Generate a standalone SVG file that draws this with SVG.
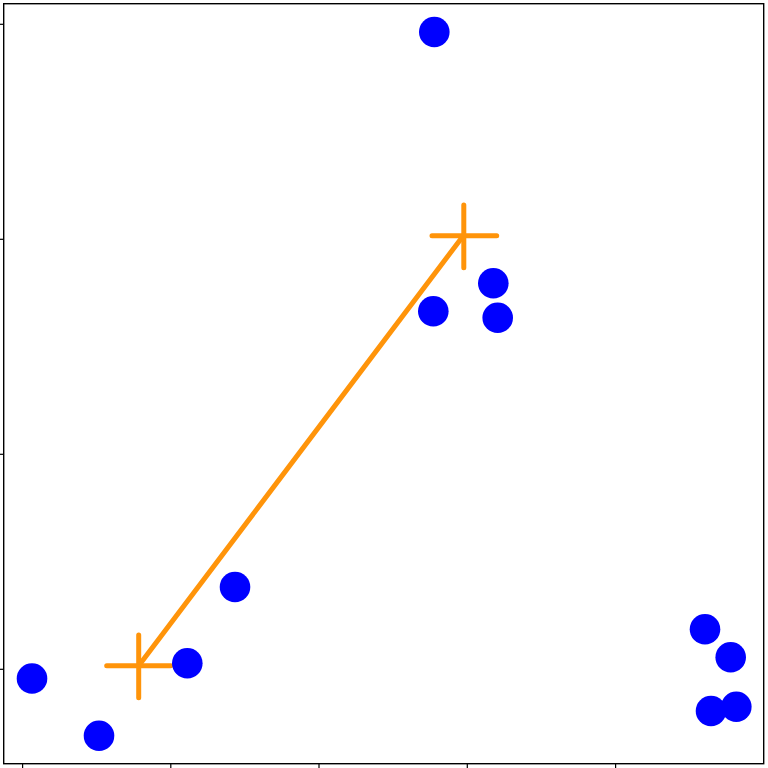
<svg xmlns="http://www.w3.org/2000/svg" width="768" height="768" viewBox="0 0 768 768">
<style>
.frame{fill:none;stroke:#000;stroke-width:1.4}
.tick{stroke:#000;stroke-width:1.2}
.pt{fill:#0000FF}
.orange{stroke:#FF940A;stroke-width:5;stroke-linecap:round;fill:none}
</style>
<rect width="768" height="768" fill="#fff"/>
<g id="axes">
<rect class="frame" x="3.7" y="3.7" width="760" height="760"/>
<g id="ticks">
<line class="tick" x1="22.6" y1="764" x2="22.6" y2="768"/>
<line class="tick" x1="170.8" y1="764" x2="170.8" y2="768"/>
<line class="tick" x1="319" y1="764" x2="319" y2="768"/>
<line class="tick" x1="467.3" y1="764" x2="467.3" y2="768"/>
<line class="tick" x1="615.6" y1="764" x2="615.6" y2="768"/>
<line class="tick" x1="0" y1="24.3" x2="3.5" y2="24.3"/>
<line class="tick" x1="0" y1="239.3" x2="3.5" y2="239.3"/>
<line class="tick" x1="0" y1="454.3" x2="3.5" y2="454.3"/>
<line class="tick" x1="0" y1="669.3" x2="3.5" y2="669.3"/>
</g>
</g>
<g id="connectors">
<line class="orange" x1="138.7" y1="665.7" x2="463.3" y2="235.7"/>
</g>
<g id="cross1"><path class="orange" d="M106.7 665.7H170.7M138.7 635V697.7"/></g>
<g id="cross2"><path class="orange" d="M432 235.7H496.7M463.8 205V267.7"/></g>
<g id="points">
<circle class="pt" cx="32" cy="678.5" r="15.3"/>
<circle class="pt" cx="99" cy="735.7" r="15.3"/>
<circle class="pt" cx="187.3" cy="663.3" r="15.3"/>
<circle class="pt" cx="235" cy="587" r="15.3"/>
<circle class="pt" cx="433.3" cy="311.3" r="15.3"/>
<circle class="pt" cx="493.3" cy="283.3" r="15.3"/>
<circle class="pt" cx="497.7" cy="317.7" r="15.3"/>
<circle class="pt" cx="434.3" cy="32" r="15.3"/>
<circle class="pt" cx="705" cy="629.3" r="15.3"/>
<circle class="pt" cx="730.7" cy="657.3" r="15.3"/>
<circle class="pt" cx="711" cy="711" r="15.3"/>
<circle class="pt" cx="736.3" cy="706.7" r="15.3"/>
</g>
</svg>
